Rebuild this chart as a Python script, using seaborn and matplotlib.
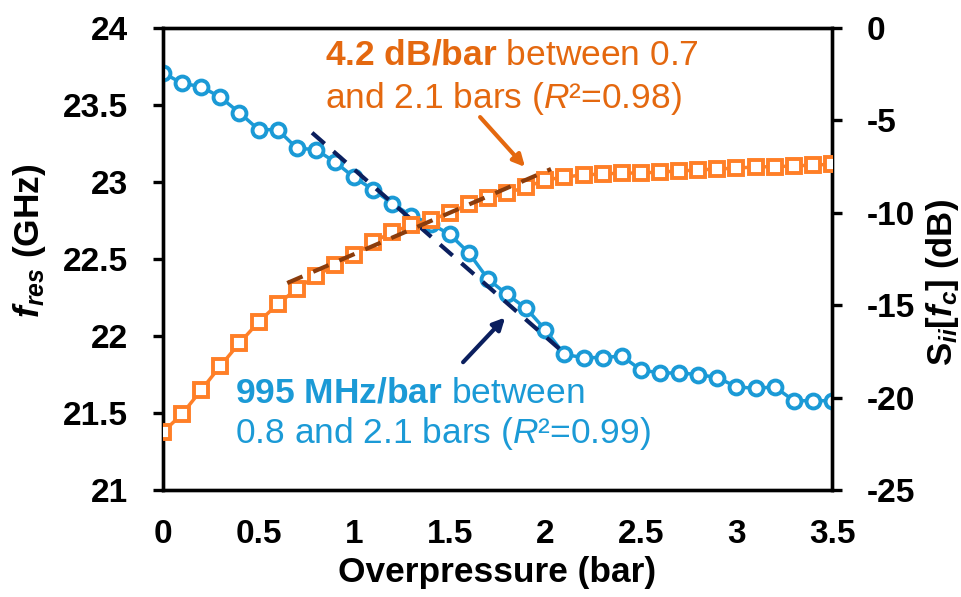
import numpy as np
import pandas as pd
import matplotlib
matplotlib.use("Agg")
import matplotlib.pyplot as plt
import seaborn as sns

# overpressure steps (bar)
pressure = [0.0, 0.1, 0.2, 0.3, 0.4, 0.5, 0.6, 0.7, 0.8, 0.9, 1.0, 1.1, 1.2, 1.3, 1.4, 1.5, 1.6, 1.7,
            1.8, 1.9, 2.0, 2.1, 2.2, 2.3, 2.4, 2.5, 2.6, 2.7, 2.8, 2.9, 3.0, 3.1, 3.2, 3.3, 3.4, 3.5]
# resonance frequency (GHz), left axis
f_res = [23.71, 23.64, 23.62, 23.55, 23.45, 23.34, 23.34, 23.22, 23.21, 23.13, 23.03, 22.95,
         22.86, 22.78, 22.73, 22.66, 22.54, 22.37, 22.27, 22.18, 22.04, 21.88, 21.86, 21.86,
         21.87, 21.78, 21.76, 21.76, 21.75, 21.73, 21.67, 21.66, 21.67, 21.58, 21.58, 21.58]
# Sii at fc (dB), right axis
s_ii = [-21.86, -20.89, -19.59, -18.29, -17.05, -15.91, -14.94, -14.12, -13.42, -12.82, -12.28,
        -11.58, -11.04, -10.66, -10.39, -10.01, -9.52, -9.20, -8.93, -8.60, -8.23, -8.06, -7.95,
        -7.90, -7.85, -7.85, -7.79, -7.74, -7.68, -7.63, -7.58, -7.52, -7.50, -7.47, -7.41, -7.38]

# linear fit segments as drawn
blue_fit_x = [0.78, 2.08]
blue_fit_y = [23.32, 21.91]
orange_fit_x = [0.65, 2.03]
orange_fit_y = [-13.80, -7.63]

x_ticks = [0, 0.5, 1, 1.5, 2, 2.5, 3, 3.5]
x_ticklabels = ["0", "0.5", "1", "1.5", "2", "2.5", "3", "3.5"]
left_ticks = [21, 21.5, 22, 22.5, 23, 23.5, 24]
left_ticklabels = ["21", "21.5", "22", "22.5", "23", "23.5", "24"]
right_ticks = [-25, -20, -15, -10, -5, 0]
right_ticklabels = ["-25", "-20", "-15", "-10", "-5", "0"]

BLUE = "#1b9ad6"
ORANGE = "#ff7f27"
ORANGE_TXT = "#e4680f"
NAVY = "#0b1f5e"
BROWN = "#8a3c0c"

sns.set_style("white")
plt.rcParams["font.family"] = ["Liberation Sans", "DejaVu Sans"]
plt.rcParams["mathtext.fontset"] = "custom"
plt.rcParams["mathtext.rm"] = "Liberation Sans"
plt.rcParams["mathtext.it"] = "Liberation Sans:italic"
plt.rcParams["mathtext.bf"] = "Liberation Sans:bold"
plt.rcParams["mathtext.bfit"] = "Liberation Sans:italic:bold"
plt.rcParams["axes.unicode_minus"] = False
plt.rcParams["text.color"] = "black"
plt.rcParams["axes.labelcolor"] = "black"
plt.rcParams["xtick.color"] = "black"
plt.rcParams["ytick.color"] = "black"

df = pd.DataFrame({"pressure": pressure, "f_res": f_res, "s_ii": s_ii})

fig = plt.figure(figsize=(9.62, 5.97), dpi=100)
ax = fig.add_axes([0.1694, 0.1792, 0.6955, 0.7739])
ax2 = ax.twinx()

sns.lineplot(data=df, x="pressure", y="f_res", ax=ax, color=BLUE, lw=2.5, marker="o",
             markersize=10, markerfacecolor="white", markeredgecolor=BLUE, markeredgewidth=2.8,
             zorder=3)
sns.lineplot(x=blue_fit_x, y=blue_fit_y, ax=ax, color=NAVY, lw=3, dashes=[4, 2.8], zorder=4)

sns.lineplot(data=df, x="pressure", y="s_ii", ax=ax2, color=ORANGE, lw=2.5, marker="s",
             markersize=10, markerfacecolor="white", markeredgecolor=ORANGE, markeredgewidth=2.8,
             zorder=3)
sns.lineplot(x=orange_fit_x, y=orange_fit_y, ax=ax2, color=BROWN, lw=3, dashes=[4, 2.8], zorder=4)

ax.set_xlim(0, 3.5)
ax.set_ylim(21, 24)
ax2.set_ylim(-25, 0)
ax.set_xticks(x_ticks, x_ticklabels)
ax.set_yticks(left_ticks, left_ticklabels)
ax2.set_yticks(right_ticks, right_ticklabels)

for a in (ax, ax2):
    for s in a.spines.values():
        s.set_linewidth(2.4)
        s.set_color("black")
    a.tick_params(length=7, width=2.4, labelsize=24, color="black", direction="out")
    for lab in a.get_xticklabels() + a.get_yticklabels():
        lab.set_fontweight("bold")
ax.tick_params(axis="y", pad=18)
ax.tick_params(axis="x", pad=14)
ax2.tick_params(axis="y", pad=18)

ax.set_xlabel("Overpressure (bar)", fontsize=25.4, fontweight="bold", labelpad=4)
ax.set_ylabel(r"$\mathbfit{f}_{\mathbfit{res}}$ (GHz)", fontsize=25.5, fontweight="bold")
ax.yaxis.set_label_coords(-0.172, 0.54)
ax2.set_ylabel(r"$\mathbf{S}_{\mathbfit{ii}}\mathbf{[}\mathbfit{f}_{\mathbfit{c}}\mathbf{]}$ (dB)",
               fontsize=25, fontweight="bold", rotation=90)
ax2.yaxis.set_label_coords(1.137, 0.45)

# annotations
ax2.text(0.242, 0.92, r"$\mathbf{4.2\ dB/bar}$ between 0.7", transform=ax.transAxes,
         color=ORANGE_TXT, fontsize=25.5, va="baseline", ha="left", zorder=6)
ax2.text(0.242, 0.827, r"and 2.1 bars ($\mathit{R}$²=0.98)", transform=ax.transAxes,
         color=ORANGE_TXT, fontsize=25.5, va="baseline", ha="left", zorder=6)
ax2.text(0.1076, 0.1905, r"$\mathbf{995\ MHz/bar}$ between", transform=ax.transAxes,
         color=BLUE, fontsize=25.5, va="baseline", ha="left", zorder=6)
ax2.text(0.1076, 0.1017, r"0.8 and 2.1 bars ($\mathit{R}$²=0.99)", transform=ax.transAxes,
         color=BLUE, fontsize=25.5, va="baseline", ha="left", zorder=6)

ax2.annotate("", xy=(1.894, -7.52), xytext=(1.659, -4.82),
             arrowprops=dict(arrowstyle="-|>,head_length=0.7,head_width=0.35", color=ORANGE_TXT,
                             lw=3, shrinkA=0, shrinkB=0))
ax.annotate("", xy=(1.79, 22.12), xytext=(1.57, 21.83),
            arrowprops=dict(arrowstyle="-|>,head_length=0.7,head_width=0.35", color=NAVY,
                            lw=3, shrinkA=0, shrinkB=0))

fig.savefig("out.png", dpi=100)
